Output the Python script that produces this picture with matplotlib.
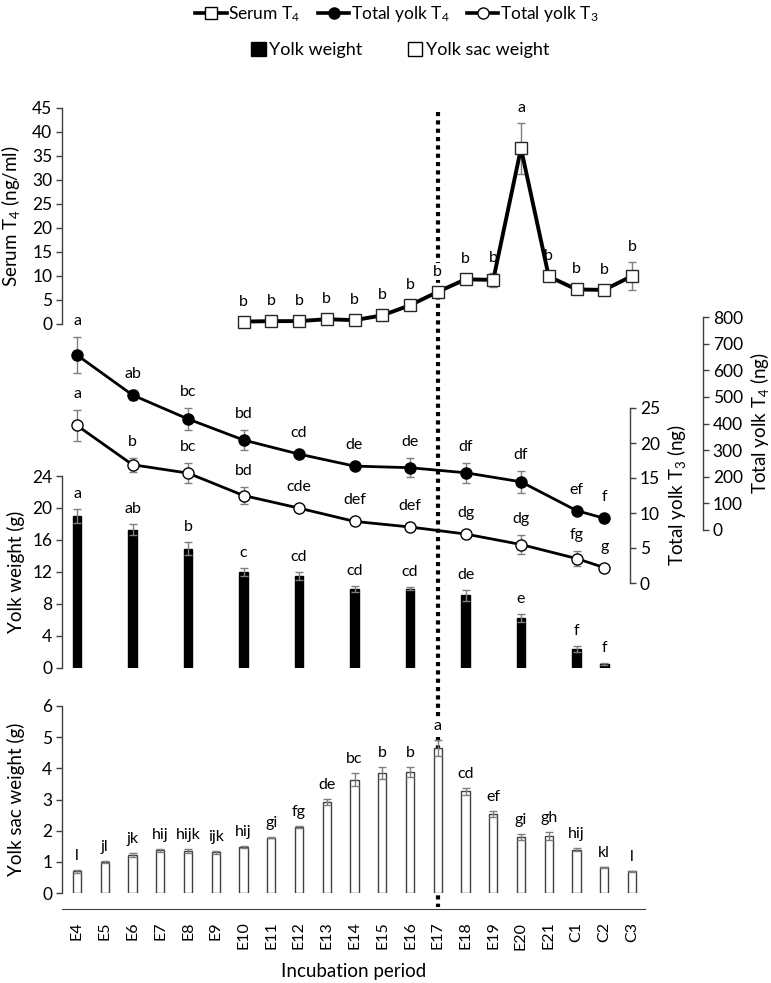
import numpy as np
import matplotlib
matplotlib.use('Agg')
import matplotlib.pyplot as plt
from matplotlib.lines import Line2D
from matplotlib.patches import Patch
from matplotlib.transforms import blended_transform_factory

plt.rcParams['font.family'] = ['Lato', 'DejaVu Sans']
plt.rcParams['mathtext.fontset'] = 'custom'
plt.rcParams['mathtext.rm'] = 'Lato'
plt.rcParams['mathtext.it'] = 'Lato:italic'
plt.rcParams['mathtext.default'] = 'regular'

# ---------------- data ----------------
categories = ['E4', 'E5', 'E6', 'E7', 'E8', 'E9', 'E10', 'E11', 'E12', 'E13', 'E14',
              'E15', 'E16', 'E17', 'E18', 'E19', 'E20', 'E21', 'C1', 'C2', 'C3']

serum_days = ['E10', 'E11', 'E12', 'E13', 'E14', 'E15', 'E16', 'E17', 'E18', 'E19',
              'E20', 'E21', 'C1', 'C2', 'C3']
serum_t4 = [0.5, 0.6, 0.6, 1.0, 0.8, 1.8, 3.9, 6.7, 9.3, 9.2, 36.6, 9.9, 7.2, 7.1, 10.0]
serum_t4_err = [0.2, 0.2, 0.2, 0.2, 0.2, 0.3, 0.3, 0.6, 1.0, 1.4, 5.3, 1.0, 0.4, 0.4, 3.0]
serum_t4_labels = ['b', 'b', 'b', 'b', 'b', 'b', 'b', 'b', 'b', 'b', 'a', 'b', 'b', 'b', 'b']

yolk_days = ['E4', 'E6', 'E8', 'E10', 'E12', 'E14', 'E16', 'E18', 'E20', 'C1', 'C2']
yolk_t4 = [657, 507, 417, 338, 285, 240, 234, 215, 181, 73, 44]
yolk_t4_err = [67, 20, 40, 37, 12, 8, 35, 38, 42, 8, 15]
yolk_t4_labels = ['a', 'ab', 'bc', 'bd', 'cd', 'de', 'de', 'df', 'df', 'ef', 'f']

yolk_t3 = [22.5, 16.9, 15.7, 12.5, 10.7, 8.8, 8.0, 7.0, 5.5, 3.5, 2.2]
yolk_t3_err = [2.2, 1.0, 1.4, 1.2, 0.2, 0.2, 0.3, 0.5, 1.3, 1.1, 0.1]
yolk_t3_labels = ['a', 'b', 'bc', 'bd', 'cde', 'def', 'def', 'dg', 'dg', 'fg', 'g']

yolk_weight = [19.0, 17.3, 14.9, 12.0, 11.5, 9.9, 9.9, 9.1, 6.2, 2.4, 0.5]
yolk_weight_err = [0.9, 0.7, 0.8, 0.5, 0.5, 0.4, 0.2, 0.7, 0.5, 0.4, 0.1]
yolk_weight_labels = ['a', 'ab', 'b', 'c', 'cd', 'cd', 'cd', 'de', 'e', 'f', 'f']

sac_weight = [0.69, 0.99, 1.22, 1.37, 1.34, 1.30, 1.47, 1.78, 2.13, 2.93, 3.64,
              3.85, 3.88, 4.65, 3.26, 2.53, 1.80, 1.83, 1.39, 0.83, 0.69]
sac_weight_err = [0.05, 0.04, 0.05, 0.05, 0.07, 0.06, 0.03, 0.03, 0.03, 0.10, 0.20,
                  0.18, 0.15, 0.25, 0.12, 0.10, 0.10, 0.12, 0.05, 0.02, 0.02]
sac_weight_labels = ['l', 'jl', 'jk', 'hij', 'hijk', 'ijk', 'hij', 'gi', 'fg', 'de', 'bc',
                     'b', 'b', 'a', 'cd', 'ef', 'gi', 'gh', 'hij', 'kl', 'l']

marker_day = 'E17'

# ---------------- layout ----------------
W, H = 771, 983
fig = plt.figure(figsize=(W / 100, H / 100), dpi=100)
fig.patch.set_facecolor('white')

X0, X1 = 62, 645
FIRST, STEP = 77, 27.75
XLIM = ((X0 - FIRST) / STEP, (X1 - FIRST) / STEP)
SPINE = '#404040'
ERR = '#7f7f7f'
TICK_FS = 12.5
CAT_FS = 11.5
LAB_FS = 13.5
ANN_FS = 11.5


def rect(top_px, bottom_px):
    return [X0 / W, 1 - bottom_px / H, (X1 - X0) / W, (bottom_px - top_px) / H]


def style(ax, side, ylim, ticks):
    ax.patch.set_visible(False)
    for s in ax.spines.values():
        s.set_visible(False)
    ax.spines[side].set_visible(True)
    ax.spines[side].set_color(SPINE)
    ax.spines[side].set_linewidth(1)
    ax.set_xlim(XLIM)
    ax.set_ylim(ylim)
    ax.set_yticks(ticks)
    ax.tick_params(axis='x', bottom=False, labelbottom=False, top=False)
    ax.yaxis.set_ticks_position(side)
    ax.yaxis.set_label_position(side)
    ax.tick_params(axis='y', direction='out', length=4, width=1, color=SPINE,
                   labelsize=TICK_FS, pad=3)


def add_labels(ax, xs, vals, errs, labels, base, marker_half):
    y0, y1 = ax.get_ylim()
    ppu = ax.bbox.height / (y1 - y0)
    for x, v, e, t in zip(xs, vals, errs, labels):
        off = max(e * ppu, marker_half) + base
        kw = {}
        if categories[x] == marker_day:
            kw['bbox'] = dict(facecolor='white', edgecolor='none', pad=1)
        ax.annotate(t, (x, v), xytext=(0, off), textcoords='offset pixels',
                    ha='center', va='baseline', fontsize=ANN_FS, zorder=6,
                    annotation_clip=False, **kw)


serum_x = [categories.index(d) for d in serum_days]
yolk_x = [categories.index(d) for d in yolk_days]
all_x = list(range(len(categories)))

# Serum T4
ax_serum = fig.add_axes(rect(108, 324))
style(ax_serum, 'left', (0, 45), range(0, 46, 5))
ax_serum.errorbar(serum_x, serum_t4, yerr=serum_t4_err, fmt='none', ecolor=ERR,
                  elinewidth=1, capsize=3, capthick=1, zorder=2)
ax_serum.plot(serum_x, serum_t4, color='black', lw=2.8, marker='s', ms=8.5,
              mfc='white', mec='#262626', mew=1, zorder=3, clip_on=False)
ax_serum.set_ylabel('Serum T$_4$ (ng/ml)', fontsize=LAB_FS)
ax_serum.yaxis.set_label_coords(-0.068, 0.5)
add_labels(ax_serum, serum_x, serum_t4, serum_t4_err, serum_t4_labels, 11, 5)

# Total yolk T4 (right axis)
ax_t4 = fig.add_axes(rect(317, 530))
style(ax_t4, 'right', (0, 800), range(0, 801, 100))
ax_t4.spines['right'].set_position(('axes', (703 - X0) / (X1 - X0)))
ax_t4.errorbar(yolk_x, yolk_t4, yerr=yolk_t4_err, fmt='none', ecolor=ERR,
               elinewidth=1, capsize=3, capthick=1, zorder=2)
ax_t4.plot(yolk_x, yolk_t4, color='black', lw=2.0, marker='o', ms=8,
           mfc='black', mec='black', zorder=3, clip_on=False)
ax_t4.set_ylabel('Total yolk T$_4$ (ng)', fontsize=LAB_FS, labelpad=4)
add_labels(ax_t4, yolk_x, yolk_t4, yolk_t4_err, yolk_t4_labels, 12, 5)

# Total yolk T3 (right axis)
ax_t3 = fig.add_axes(rect(408, 583))
style(ax_t3, 'right', (0, 25), range(0, 26, 5))
ax_t3.spines['right'].set_position(('axes', (630 - X0) / (X1 - X0)))
ax_t3.errorbar(yolk_x, yolk_t3, yerr=yolk_t3_err, fmt='none', ecolor=ERR,
               elinewidth=1, capsize=3, capthick=1, zorder=2)
ax_t3.plot(yolk_x, yolk_t3, color='black', lw=2.0, marker='o', ms=8,
           mfc='white', mec='black', mew=1, zorder=3, clip_on=False)
ax_t3.set_ylabel('Total yolk T$_3$ (ng)', fontsize=LAB_FS, labelpad=4)
add_labels(ax_t3, yolk_x, yolk_t3, yolk_t3_err, yolk_t3_labels, 12, 5)

# Yolk weight bars
ax_yolk = fig.add_axes(rect(476, 668))
style(ax_yolk, 'left', (0, 24), range(0, 25, 4))
ax_yolk.bar(yolk_x, yolk_weight, width=0.32, color='black', edgecolor='black', zorder=2)
ax_yolk.errorbar(yolk_x, yolk_weight, yerr=yolk_weight_err, fmt='none', ecolor=ERR,
                 elinewidth=1, capsize=3, capthick=1, zorder=3)
ax_yolk.set_ylabel('Yolk weight (g)', fontsize=LAB_FS)
ax_yolk.yaxis.set_label_coords(-0.064, 0.5)
add_labels(ax_yolk, yolk_x, yolk_weight, yolk_weight_err, yolk_weight_labels, 11, 0)

# Yolk sac weight bars
ax_sac = fig.add_axes(rect(706, 893))
style(ax_sac, 'left', (0, 6), range(0, 7, 1))
ax_sac.bar(all_x, sac_weight, width=0.3, color='white', edgecolor=SPINE, lw=1, zorder=2)
ax_sac.errorbar(all_x, sac_weight, yerr=sac_weight_err, fmt='none', ecolor=ERR,
                elinewidth=1, capsize=3, capthick=1, zorder=3)
ax_sac.set_ylabel('Yolk sac weight (g)', fontsize=LAB_FS)
ax_sac.yaxis.set_label_coords(-0.064, 0.5)
add_labels(ax_sac, all_x, sac_weight, sac_weight_err, sac_weight_labels, 10, 0)
ax_sac.spines['bottom'].set_visible(True)
ax_sac.spines['bottom'].set_color(SPINE)
ax_sac.spines['bottom'].set_position(('outward', 16 * 0.72))
ax_sac.set_xticks(all_x)
ax_sac.set_xticklabels(categories, rotation=90)
ax_sac.tick_params(axis='x', bottom=True, labelbottom=True, length=0, pad=9,
                   labelsize=CAT_FS)
ax_sac.set_xlabel('Incubation period', fontsize=LAB_FS, labelpad=10)

# dotted separator at E17
trans = blended_transform_factory(ax_sac.transData, fig.transFigure)
sep = Line2D([categories.index(marker_day)] * 2, [1 - 112 / H, 1 - 907 / H],
             transform=trans, color='black', lw=3, linestyle=(0, (1, 1)), zorder=-1)
fig.add_artist(sep)

# legends
h1 = Line2D([], [], color='black', lw=2.6, marker='s', ms=8, mfc='white', mec='black')
h2 = Line2D([], [], color='black', lw=2.6, marker='o', ms=8, mfc='black', mec='black')
h3 = Line2D([], [], color='black', lw=2.6, marker='o', ms=8, mfc='white', mec='black')
fig.legend([h1, h2, h3], ['Serum T$_4$', 'Total yolk T$_4$', 'Total yolk T$_3$'],
           loc='center', bbox_to_anchor=(397 / W, 1 - 14 / H), ncol=3, frameon=False,
           fontsize=12.5, handlelength=1.8, handletextpad=0.1, columnspacing=1.0,
           borderpad=0, borderaxespad=0)
fig.legend([Patch(facecolor='black', edgecolor='black'),
            Patch(facecolor='white', edgecolor='black')],
           ['Yolk weight', 'Yolk sac weight'],
           loc='center', bbox_to_anchor=(400 / W, 1 - 50 / H), ncol=2, frameon=False,
           fontsize=13, handlelength=0.8, handleheight=0.8, handletextpad=0.2,
           columnspacing=2.5, borderpad=0, borderaxespad=0)

fig.savefig('out.png', dpi=100)
